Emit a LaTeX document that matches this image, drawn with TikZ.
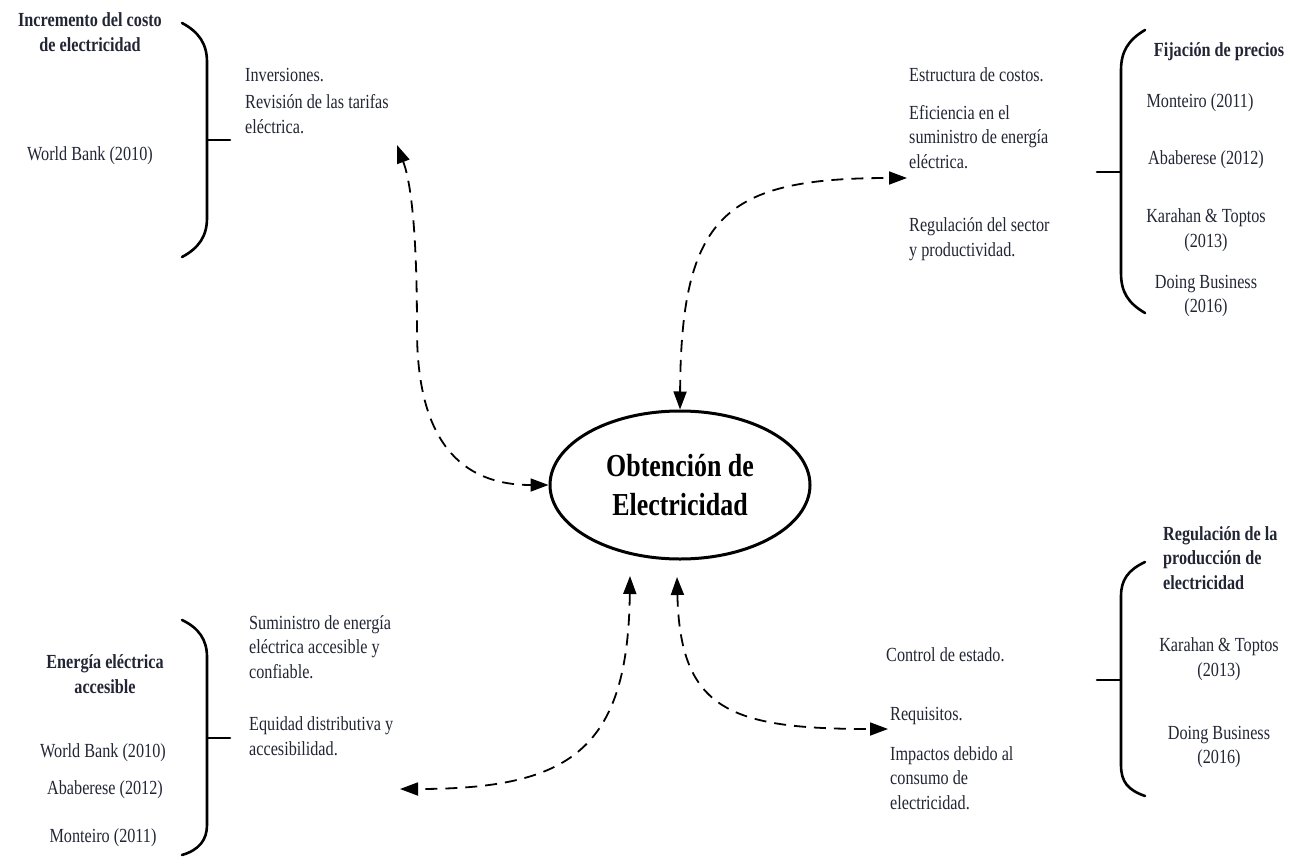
\documentclass[tikz,border=0pt]{standalone}
\usepackage{fontspec}
\setmainfont{Liberation Serif}[FakeStretch=0.81]
\usetikzlibrary{arrows.meta,shapes.geometric}
\definecolor{ink}{RGB}{34,38,52}

\begin{document}
\begin{tikzpicture}[x=1pt,y=-1pt,
  txt/.style={font=\fontsize{20}{24.5}\selectfont, text=ink, inner sep=0pt, align=left},
  ctr/.style={txt, align=center},
  head/.style={font=\fontsize{20}{24.5}\selectfont\bfseries, text=ink, inner sep=0pt},
  brace/.style={line width=2.6pt, line cap=round},
  link/.style={line width=1.8pt, dash pattern=on 12pt off 8pt,
    {Triangle[length=18pt,width=13pt]}-{Triangle[length=18pt,width=13pt]}},
  centre/.style={ellipse, draw, line width=3pt, minimum width=260pt, minimum height=148pt,
    inner sep=0pt, align=center, font=\fontsize{32}{39}\selectfont\bfseries}]
\useasboundingbox (0,0) rectangle (1292,856);

% central topic
\node[centre] (ell) at (680,485) {Obtención de\\Electricidad};

% ---- upper left group ----
\node[head, align=center] (hTL) at (90,32) {Incremento del costo\\de electricidad};
\node[ctr] (wbTL) at (90,156) {World Bank (2010)};
\draw[brace] (182,23) .. controls (199,32) and (207,44) .. (207,62) -- (207,218)
  .. controls (207,236) and (199,248) .. (182,257);
\draw[brace] (207,140) -- (230,140);
\node[txt, anchor=west] (inv) at (245,75) {Inversiones.};
\node[txt, anchor=west] (rev) at (245,114) {Revisión de las tarifas\\eléctrica.};

% ---- upper right group ----
\node[txt, anchor=west] (est) at (909,75) {Estructura de costos.};
\node[txt, anchor=west] (efi) at (909,137) {Eficiencia en el\\suministro de energía\\eléctrica.};
\node[txt, anchor=west] (reg) at (909,239) {Regulación del sector\\y productividad.};
\draw[brace] (1145,30) .. controls (1128,40) and (1121,52) .. (1121,70) -- (1121,273)
  .. controls (1121,292) and (1128,303) .. (1145,313);
\draw[brace] (1097,172) -- (1121,172);
\node[head] (hTR) at (1219,52) {Fijación de precios};
\node[ctr] (monTR) at (1200,103) {Monteiro (2011)};
\node[ctr] (abaTR) at (1206,160) {Ababerese (2012)};
\node[ctr] (karTR) at (1206,230) {Karahan \& Toptos\\(2013)};
\node[ctr] (doTR) at (1206,296) {Doing Business\\(2016)};

% ---- lower left group ----
\node[head, align=center] (hBL) at (105,674) {Energía eléctrica\\accesible};
\node[ctr] (wbBL) at (103,753) {World Bank (2010)};
\node[ctr] (abaBL) at (105,790) {Ababerese (2012)};
\node[ctr] (monBL) at (103,838) {Monteiro (2011)};
\draw[brace] (182,620) .. controls (199,628) and (207,640) .. (207,657) -- (207,825)
  .. controls (207,840) and (199,850) .. (182,855);
\draw[brace] (207,738) -- (230,738);
\node[txt, anchor=west] (sum) at (249,647) {Suministro de energía\\eléctrica accesible y\\confiable.};
\node[txt, anchor=west] (equ) at (249,736) {Equidad distributiva y\\accesibilidad.};

% ---- lower right group ----
\node[txt, anchor=west] (ctrl) at (886,655) {Control de estado.};
\node[txt, anchor=west] (req) at (890,716) {Requisitos.};
\node[txt, anchor=west] (imp) at (890,778) {Impactos debido al\\consumo de\\electricidad.};
\draw[brace] (1145,562) .. controls (1128,570) and (1121,580) .. (1121,596) -- (1121,765)
  .. controls (1121,782) and (1128,790) .. (1145,796);
\draw[brace] (1097,680) -- (1121,680);
\node[head, anchor=west, align=left] (hBR) at (1163,558) {Regulación de la\\producción de\\electricidad};
\node[ctr] (karBR) at (1219,659) {Karahan \& Toptos\\(2013)};
\node[ctr] (doBR) at (1219,747) {Doing Business\\(2016)};

% ---- connectors ----
\coordinate (aTL) at (397,145);
\coordinate (aTR) at (907,178);
\coordinate (bL) at (630,576);
\coordinate (aBL) at (400,789);
\coordinate (bR) at (677,577);
\coordinate (aBR) at (888,729);

\draw[link] (aTL) .. controls (412,185) and (417,240) .. (417,330)
  .. controls (417,440) and (460,485) .. (ell.west);
\draw[link] (ell.north) .. controls (681,215) and (725,178) .. (aTR);
\draw[link] (bL) .. controls (628,750) and (570,789) .. (aBL);
\draw[link] (bR) .. controls (680,710) and (730,729) .. (aBR);
\end{tikzpicture}
\end{document}
